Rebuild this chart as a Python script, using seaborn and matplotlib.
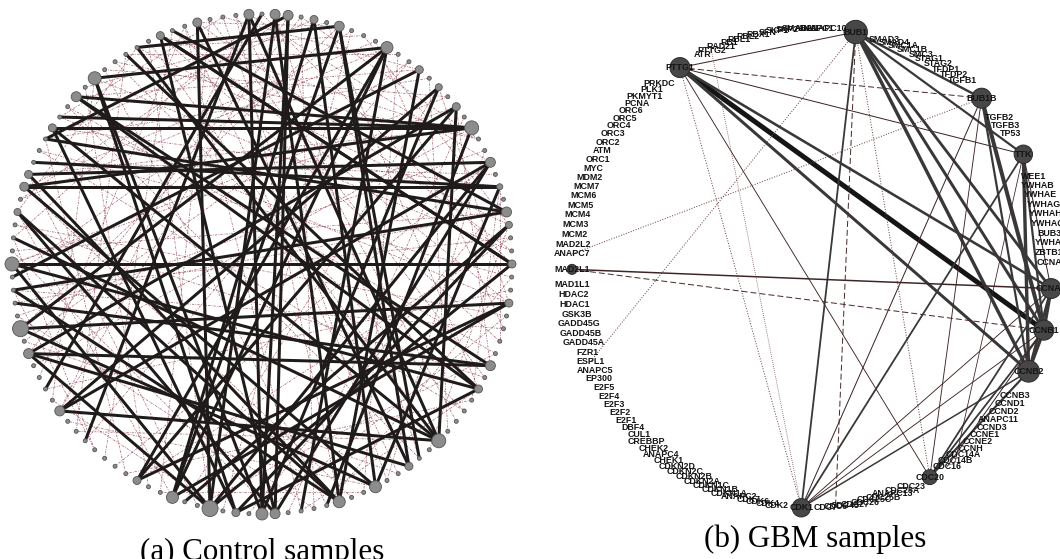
import numpy as np
import pandas as pd
import matplotlib
matplotlib.use("Agg")
import matplotlib.pyplot as plt
import seaborn as sns
from matplotlib.collections import LineCollection

# ---------------- (a) control network: 120 nodes on a circle ----------------
ctrl_n = 120
# node index -> node weight (drawn radius, px); all other nodes are tiny
ctrl_big = {1: 5, 119: 5, 2: 5, 4: 4, 6: 5, 10: 6, 13: 4, 15: 3.5, 17: 4, 19: 7,
            22: 5, 24: 3, 26: 5, 27: 3.5, 30: 4, 33: 4, 38: 5, 40: 4, 45: 7,
            48: 4, 51: 6, 54: 6, 59: 5, 60: 6, 62: 4, 64: 8, 67: 6, 70: 4,
            78: 5, 83: 5, 85: 8, 90: 7, 94: 3.5, 96: 4.5, 97: 4, 101: 4,
            104: 5, 106: 6.5, 112: 4, 115: 4.5}

ctrl_strong = [(106, 10), (106, 60), (106, 62), (104, 40), (101, 19), (102, 19),
               (113, 26), (115, 48), (115, 64), (112, 30), (119, 75), (119, 45),
               (0, 80), (1, 54), (1, 64), (2, 60), (2, 100), (4, 67), (6, 67),
               (6, 47), (6, 110), (10, 57), (10, 70), (10, 85), (13, 89), (15, 78),
               (17, 83), (19, 55), (19, 96), (22, 64), (22, 97), (24, 98), (26, 100),
               (26, 88), (27, 66), (30, 90), (30, 112), (33, 85), (33, 70), (38, 87),
               (38, 104), (40, 62), (40, 109), (45, 92), (45, 101), (45, 17), (48, 6),
               (48, 83), (51, 4), (51, 96), (51, 24), (54, 88), (54, 13), (54, 94),
               (59, 2), (59, 22), (60, 119), (60, 15), (62, 27), (64, 83), (64, 90),
               (64, 30), (67, 10), (67, 33), (70, 17), (78, 45), (78, 22), (83, 38),
               (85, 51), (90, 40), (94, 59), (96, 24), (97, 54), (101, 62), (104, 19),
               (110, 45), (112, 59)]

ctrl_weak = [(0, 30), (0, 92), (1, 47), (2, 78), (3, 56), (4, 100), (5, 40), (6, 85),
             (7, 63), (8, 110), (9, 35), (10, 95), (11, 52), (12, 75), (13, 104),
             (14, 44), (15, 66), (16, 90), (17, 38), (18, 58), (19, 82), (20, 108),
             (21, 50), (22, 72), (23, 98), (24, 41), (25, 61), (26, 87), (27, 46),
             (28, 70), (29, 115), (31, 55), (32, 80), (33, 102), (34, 60), (35, 88),
             (36, 112), (37, 65), (39, 93), (41, 71), (42, 99), (43, 118), (45, 76),
             (47, 103), (49, 84), (50, 117), (51, 77), (53, 96), (55, 107), (56, 86),
             (57, 114), (59, 91), (62, 101), (64, 111), (65, 97), (67, 94), (68, 116),
             (69, 105), (71, 100), (73, 113), (74, 92), (76, 109), (78, 119), (79, 106),
             (81, 114), (83, 3), (84, 12), (86, 21), (88, 28), (89, 7), (90, 17),
             (91, 26), (93, 34), (95, 2), (96, 9), (97, 19), (99, 31), (100, 14),
             (101, 24), (103, 37), (105, 5), (106, 29), (107, 16), (108, 42), (109, 11),
             (110, 27), (111, 45), (112, 20), (113, 33), (114, 49), (115, 6), (116, 39),
             (117, 13), (118, 54), (119, 22), (3, 20), (8, 27), (15, 33), (24, 36),
             (40, 57), (52, 68), (63, 79), (74, 88), (94, 110), (102, 117)]

# ---------------- (b) GBM network ----------------
gbm_genes = ["BUB1", "SMAD3", "SMAD4", "SMC1A", "SMC1B", "SMC3", "STAG1", "STAG2",
             "TFDP1", "TFDP2", "TGFB1", "BUB1B", "TGFB2", "TGFB3", "TP53", "TTK",
             "WEE1", "YWHAB", "YWHAE", "YWHAG", "YWHAH", "YWHAQ", "BUB3", "YWHAZ",
             "ZBTB17", "CCNA1", "CCNA2", "CCNB1", "CCNB2", "CCNB3", "CCND1", "CCND2",
             "ANAPC11", "CCND3", "CCNE1", "CCNE2", "CCNH", "CDC14A", "CDC14B", "CDC16",
             "CDC20", "CDC23", "CDC25A", "ANAPC13", "CDC25B", "CDC25C", "CDC26",
             "CDC27", "CDC45", "CDC6", "CDC7", "CDK1", "CDK2", "CDK4", "CDK6", "CDK7",
             "ANAPC2", "CDKN1A", "CDKN1B", "CDKN1C", "CDKN2A", "CDKN2B", "CDKN2C",
             "CDKN2D", "CHEK1", "ANAPC4", "CHEK2", "CREBBP", "CUL1", "DBF4", "E2F1",
             "E2F2", "E2F3", "E2F4", "E2F5", "EP300", "ANAPC5", "ESPL1", "FZR1",
             "GADD45A", "GADD45B", "GADD45G", "GSK3B", "HDAC1", "HDAC2", "MAD1L1",
             "MAD2L1", "ANAPC7", "MAD2L2", "MCM2", "MCM3", "MCM4", "MCM5", "MCM6",
             "MCM7", "MDM2", "MYC", "ORC1", "ATM", "ORC2", "ORC3", "ORC4", "ORC5",
             "ORC6", "PCNA", "PKMYT1", "PLK1", "PRKDC", "PTTG1", "ATR", "PTTG2",
             "RAD21", "RB1", "RBL1", "RBL2", "RBX1", "SFN", "SKP1", "SKP2", "SMAD2",
             "ABL1", "ANAPC1", "ANAPC10"]

gbm_hubs = {"BUB1": 11.7, "PTTG1": 10, "BUB1B": 10, "TTK": 9.2, "CCNA2": 10,
            "CCNB1": 10, "CCNB2": 10.8, "CDC20": 7.5, "CDK1": 9.2, "MAD2L1": 5}

# (source, target, width px, kind)
gbm_edges = [("PTTG1", "CCNB1", 5.0, "solid"), ("PTTG1", "CCNB2", 3.0, "solid"),
             ("PTTG1", "CCNA2", 2.6, "solid"), ("PTTG1", "BUB1", 1.0, "thin"),
             ("PTTG1", "BUB1B", 1.0, "dash"), ("PTTG1", "TTK", 1.0, "thin"),
             ("PTTG1", "CDK1", 1.0, "dot"), ("PTTG1", "CDC20", 0.9, "thin"),
             ("BUB1", "CDK1", 1.8, "solid"), ("BUB1", "CDC6", 1.0, "dash"),
             ("BUB1", "CDC20", 1.0, "dot"), ("BUB1", "ESPL1", 1.0, "dot"),
             ("BUB1", "CCNB2", 3.4, "solid"), ("BUB1", "CCNB1", 3.0, "solid"),
             ("BUB1", "CCNA2", 2.8, "solid"), ("BUB1", "BUB1B", 2.4, "solid"),
             ("BUB1", "TTK", 2.2, "solid"), ("BUB1B", "CCNB1", 4.0, "solid"),
             ("BUB1B", "CCNB2", 2.2, "solid"), ("BUB1B", "CDK1", 1.0, "thin"),
             ("BUB1B", "ANAPC7", 1.0, "dot"), ("BUB1B", "CDC20", 0.9, "thin"),
             ("TTK", "CCNB2", 3.4, "solid"), ("TTK", "CCNB1", 2.2, "solid"),
             ("TTK", "CCNA2", 1.0, "thin"), ("TTK", "CDK1", 1.8, "solid"),
             ("MAD2L1", "CCNA2", 1.5, "thin"), ("MAD2L1", "CCNB1", 1.0, "dash"),
             ("CDK1", "CCNB2", 1.5, "solid"), ("CDK1", "CCNB1", 0.9, "thin"),
             ("CDK1", "CCNA2", 0.9, "thin"), ("CDC20", "CCNB2", 2.2, "solid"),
             ("CDC20", "CCNB1", 1.8, "solid"), ("CDC20", "CCNA2", 1.8, "solid"),
             ("CCNA2", "CCNB1", 3.4, "solid"), ("CCNB1", "CCNB2", 3.4, "solid"),
             ("CCNA2", "CCNB2", 2.6, "solid"), ("CDC16", "CCNB1", 1.0, "thin"),
             ("CDC14B", "TTK", 0.8, "thin"), ("CDK1", "PTTG2", 0.8, "dot")]

captions = ["(a) Control samples", "(b) GBM samples"]


def circle_layout(weights, cx, cy, r, start_deg):
    # each node gets an angular slot proportional to its weight
    w = np.asarray(weights, float)
    slots = 360.0 * w / w.sum()
    ang = start_deg - (np.cumsum(slots) - slots / 2 - slots[0] / 2)
    th = np.radians(ang)
    return cx + r * np.cos(th), cy - r * np.sin(th)


sns.set_theme(style="white")
plt.rcParams["font.family"] = ["Liberation Sans", "DejaVu Sans"]

fig = plt.figure(figsize=(10.6, 5.59), dpi=100)
ax = fig.add_axes([0, 0, 1, 1])

PX = 0.72  # px -> points at 100 dpi

# ----- panel (a) -----
ax_x, ax_y = circle_layout(np.ones(ctrl_n), 262, 264, 250, 90)
weak_segs = [[(ax_x[a], ax_y[a]), (ax_x[b], ax_y[b])] for a, b in ctrl_weak]
ax.add_collection(LineCollection(weak_segs, colors="#8a3848", linewidths=0.55,
                                 linestyles=[(0, (3, 1.5, 1, 1.5))], alpha=0.75, zorder=1))
strong_segs = [[(ax_x[a], ax_y[a]), (ax_x[b], ax_y[b])] for a, b in ctrl_strong]
ax.add_collection(LineCollection(strong_segs, colors="#1f1b1b", linewidths=3.0 * PX,
                                 zorder=2))

ctrl_df = pd.DataFrame({"x": ax_x, "y": ax_y,
                        "r": [ctrl_big.get(i, 2.0) for i in range(ctrl_n)]})
sns.scatterplot(data=ctrl_df, x="x", y="y", size="r",
                sizes={v: (2 * v * PX) ** 2 for v in ctrl_df["r"].unique()},
                color="#8c8c8c", edgecolor="#555555", linewidth=0.6,
                legend=False, ax=ax, zorder=3)

# ----- panel (b) -----
gw = [max(gbm_hubs.get(g, 0), 2.33) for g in gbm_genes]
bx, by = circle_layout(gw, 812, 268, 240, 79.5)
pos = {g: (bx[i], by[i]) for i, g in enumerate(gbm_genes)}

styles = {"solid": ("#383838", "-"), "thin": ("#3e2424", "-"),
          "dot": ("#6a4444", (0, (1, 1.6))), "dash": ("#4a2c2c", (0, (6, 3)))}
for s, t, w, kind in gbm_edges:
    col, ls = styles[kind]
    if s == "PTTG1" and t == "CCNB1":
        col = "#151515"
    ax.plot([pos[s][0], pos[t][0]], [pos[s][1], pos[t][1]], color=col,
            lw=w * PX, ls=ls, zorder=1, solid_capstyle="round")

hub_df = pd.DataFrame({"x": [pos[g][0] for g in gbm_hubs],
                       "y": [pos[g][1] for g in gbm_hubs],
                       "r": list(gbm_hubs.values())})
sns.scatterplot(data=hub_df, x="x", y="y", size="r",
                sizes={v: (2 * v * PX) ** 2 for v in hub_df["r"].unique()},
                color="#474747", edgecolor="#2a2a2a", linewidth=0.7,
                legend=False, ax=ax, zorder=3)

for g in gbm_genes:
    ax.text(pos[g][0], pos[g][1], g, ha="center", va="center", fontsize=6.4,
            fontweight="bold", color="#141414", zorder=4)

# captions
ax.text(262, 560, captions[0], ha="center", va="baseline", fontsize=22.3,
        family=["Liberation Serif", "DejaVu Serif"], color="black")
ax.text(815, 547, captions[1], ha="center", va="baseline", fontsize=22.3,
        family=["Liberation Serif", "DejaVu Serif"], color="black")

ax.set_xlim(0, 1060)
ax.set_ylim(559, 0)
ax.set_xlabel("")
ax.set_ylabel("")
ax.axis("off")

fig.savefig("out.png", dpi=100, facecolor="white")
